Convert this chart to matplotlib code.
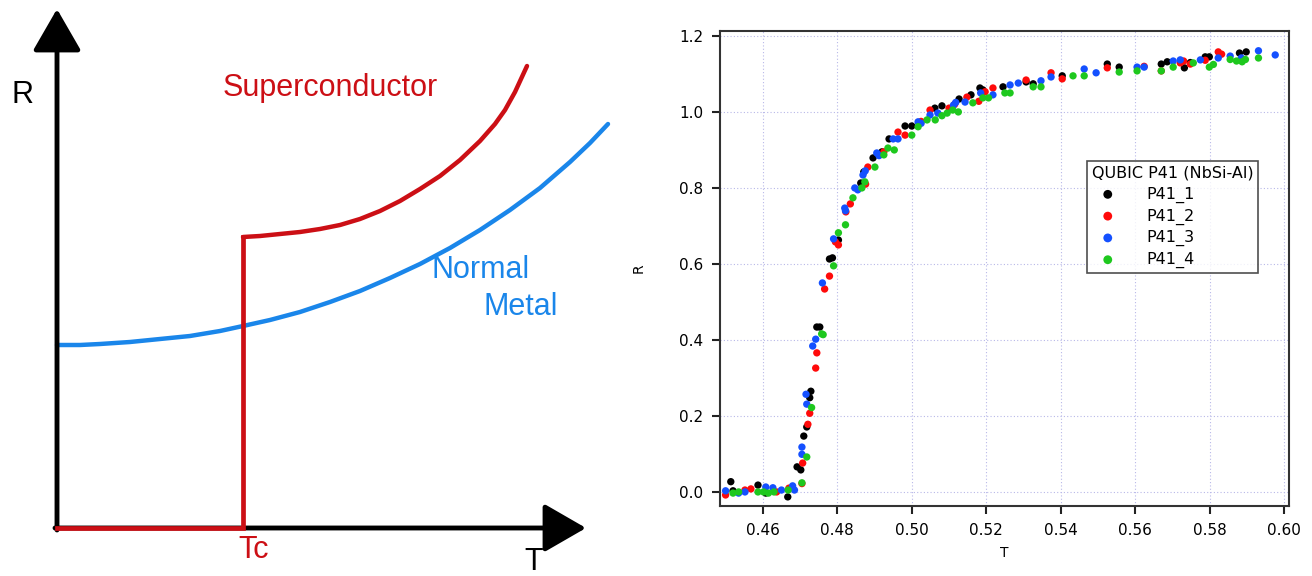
# %% pacotes
import numpy as np
import matplotlib
matplotlib.use('Agg')
import matplotlib.pyplot as plt

# %% dados - esquema (coordenadas da figura esquemática, em px)
sc_x = [243, 260, 280, 300, 320, 340, 360, 380, 400, 420, 440, 460, 480, 495, 505, 515, 527]
sc_y = [237, 236, 234, 232, 229, 225, 219, 211, 201, 189, 176, 160, 141, 124, 110, 92, 66]
step_x = [57, 243, 243]
step_y = [528, 528, 237]
nm_x = [57, 80, 100, 130, 160, 190, 220, 243, 270, 300, 330, 360, 390, 420, 450,
        480, 510, 540, 570, 590, 608]
nm_y = [345, 345, 344, 342, 339, 336, 331, 326, 320, 312, 302, 291, 278, 264, 248,
        230, 210, 188, 162, 143, 124]

# %% dados - medidas R(T)
t1 = [0.4514, 0.4520, 0.4587, 0.4608, 0.4667, 0.4692, 0.4702, 0.4710, 0.4718, 0.4726,
      0.4729, 0.4745, 0.4753, 0.4779, 0.4787, 0.4803, 0.4863, 0.4871, 0.4896, 0.4920,
      0.4939, 0.4982, 0.5000, 0.5062, 0.5081, 0.5127, 0.5159, 0.5183, 0.5191, 0.5245,
      0.5307, 0.5326, 0.5404, 0.5525, 0.5557, 0.5670, 0.5686, 0.5732, 0.5748, 0.5788,
      0.5799, 0.5880, 0.5898]
r1 = [0.027, 0.003, 0.018, -0.003, -0.013, 0.066, 0.058, 0.147, 0.171, 0.248,
      0.265, 0.434, 0.434, 0.613, 0.616, 0.663, 0.813, 0.842, 0.879, 0.895,
      0.929, 0.963, 0.963, 1.010, 1.016, 1.034, 1.045, 1.063, 1.058, 1.066,
      1.079, 1.074, 1.095, 1.126, 1.118, 1.126, 1.132, 1.116, 1.130, 1.145,
      1.145, 1.155, 1.158]

t2 = [0.4500, 0.4552, 0.4568, 0.4637, 0.4670, 0.4705, 0.4707, 0.4721, 0.4726, 0.4742,
      0.4745, 0.4766, 0.4779, 0.4795, 0.4803, 0.4823, 0.4835, 0.4876, 0.4882, 0.4925,
      0.4963, 0.4982, 0.5025, 0.5049, 0.5100, 0.5115, 0.5148, 0.5180, 0.5197, 0.5218,
      0.5307, 0.5374, 0.5404, 0.5525, 0.5624, 0.5670, 0.5721, 0.5730, 0.5748, 0.5788,
      0.5823, 0.5832]
r2 = [-0.008, 0.005, 0.008, 0.000, 0.010, 0.022, 0.076, 0.178, 0.207, 0.326,
      0.366, 0.534, 0.568, 0.658, 0.650, 0.737, 0.758, 0.810, 0.855, 0.895,
      0.947, 0.939, 0.975, 1.005, 1.010, 1.020, 1.039, 1.028, 1.053, 1.063,
      1.084, 1.103, 1.087, 1.116, 1.120, 1.108, 1.129, 1.134, 1.126, 1.136,
      1.158, 1.152]

t3 = [0.4500, 0.4535, 0.4552, 0.4608, 0.4627, 0.4650, 0.4680, 0.4685, 0.4705, 0.4705,
      0.4716, 0.4718, 0.4734, 0.4742, 0.4760, 0.4790, 0.4820, 0.4822, 0.4847, 0.4855,
      0.4869, 0.4875, 0.4906, 0.4912, 0.4950, 0.4963, 0.5017, 0.5025, 0.5049, 0.5070,
      0.5112, 0.5118, 0.5143, 0.5185, 0.5218, 0.5264, 0.5286, 0.5347, 0.5374, 0.5463,
      0.5495, 0.5605, 0.5624, 0.5702, 0.5721, 0.5775, 0.5823, 0.5855, 0.5885, 0.5931,
      0.5976]
r3 = [0.003, -0.003, 0.000, 0.013, 0.011, 0.005, 0.016, 0.005, 0.099, 0.118,
      0.257, 0.231, 0.384, 0.402, 0.550, 0.666, 0.747, 0.740, 0.800, 0.795,
      0.834, 0.845, 0.892, 0.885, 0.929, 0.929, 0.974, 0.970, 0.992, 0.997,
      1.018, 1.025, 1.026, 1.050, 1.045, 1.071, 1.076, 1.082, 1.092, 1.113,
      1.103, 1.118, 1.118, 1.134, 1.137, 1.137, 1.142, 1.147, 1.142, 1.161,
      1.150]

t4 = [0.4520, 0.4535, 0.4587, 0.4602, 0.4615, 0.4630, 0.4668, 0.4705, 0.4718, 0.4731,
      0.4758, 0.4762, 0.4790, 0.4803, 0.4822, 0.4842, 0.4866, 0.4874, 0.4901, 0.4925,
      0.4936, 0.4953, 0.5000, 0.5017, 0.5041, 0.5063, 0.5081, 0.5095, 0.5110, 0.5125,
      0.5164, 0.5191, 0.5206, 0.5250, 0.5264, 0.5326, 0.5347, 0.5433, 0.5463, 0.5557,
      0.5605, 0.5670, 0.5702, 0.5756, 0.5799, 0.5810, 0.5855, 0.5872, 0.5887, 0.5896,
      0.5931]
r4 = [-0.003, 0.000, 0.000, 0.000, -0.003, 0.000, 0.005, 0.024, 0.092, 0.222,
      0.416, 0.414, 0.595, 0.682, 0.703, 0.774, 0.800, 0.816, 0.855, 0.887,
      0.905, 0.900, 0.939, 0.961, 0.979, 0.979, 0.990, 0.997, 1.005, 1.000,
      1.024, 1.037, 1.037, 1.050, 1.050, 1.066, 1.066, 1.095, 1.095, 1.105,
      1.108, 1.108, 1.118, 1.129, 1.118, 1.125, 1.138, 1.134, 1.132, 1.138,
      1.142]

series = [(t1, r1, 'P41_1', 'black'),
          (t2, r2, 'P41_2', '#ff0a0a'),
          (t3, r3, 'P41_3', '#1450ff'),
          (t4, r4, 'P41_4', '#1ec81e')]

xticks = [0.46, 0.48, 0.50, 0.52, 0.54, 0.56, 0.58, 0.60]
yticks = [0.0, 0.2, 0.4, 0.6, 0.8, 1.0, 1.2]

# %% figura
fig = plt.figure(figsize=(13.12, 5.76), dpi=100)

# esquema à esquerda (eixo em pixels)
red = '#cc0f15'
blue = '#1a86ea'
ax0 = fig.add_axes([0, 0, 620 / 1312, 1])
ax0.set_xlim(0, 620)
ax0.set_ylim(576, 0)
ax0.axis('off')

arrow = dict(arrowstyle='-|>,head_length=1.3,head_width=0.75', lw=3.5, color='black',
             mutation_scale=20, shrinkA=0, shrinkB=0)
ax0.annotate('', xy=(57, 9), xytext=(57, 530), arrowprops=arrow)
ax0.annotate('', xy=(586, 528), xytext=(55, 528), arrowprops=arrow)

ax0.plot(nm_x, nm_y, color=blue, lw=3.2, solid_capstyle='round', solid_joinstyle='round')
ax0.plot(step_x, step_y, color=red, lw=3.4, solid_joinstyle='miter', zorder=5)
ax0.plot(sc_x, sc_y, color=red, lw=3.2, solid_capstyle='round', solid_joinstyle='round',
         zorder=5)

fs = 22
ax0.text(22, 95, 'R', fontsize=fs, family='Liberation Sans', ha='center', va='center')
ax0.text(330, 88, 'Superconductor', fontsize=fs, family='Liberation Sans', color=red,
         ha='center', va='center')
ax0.text(432, 270, 'Normal', fontsize=fs, family='Liberation Sans', color=blue,
         ha='left', va='center')
ax0.text(483, 307, 'Metal', fontsize=fs, family='Liberation Sans', color=blue,
         ha='left', va='center')
ax0.text(254, 550, 'Tc', fontsize=fs, family='Liberation Sans', color=red,
         ha='center', va='center')
ax0.text(534, 562, 'T', fontsize=fs, family='Liberation Sans', ha='center', va='center')

# medidas à direita
ax = fig.add_axes([720 / 1312, 1 - 506 / 576, 569 / 1312, 475 / 576])
for t, r, nome, cor in series:
    ax.scatter(t, r, s=28, color=cor, label=nome, edgecolors='none', zorder=3)

ax.set_xlim(0.4485, 0.6013)
ax.set_ylim(-0.037, 1.213)
ax.set_xticks(xticks)
ax.set_yticks(yticks)
ax.set_xticklabels([f'{v:.2f}' for v in xticks])
ax.set_yticklabels([f'{v:.1f}' for v in yticks])
ax.grid(True, linestyle=(0, (1, 2)), color='#b8b8e8', lw=0.8)
for s in ax.spines.values():
    s.set_color('#333333')
    s.set_linewidth(1.5)
ax.tick_params(direction='out', length=6, width=1.5, color='#222222',
               labelsize=11, pad=6)
ax.set_xlabel('T', fontsize=10, labelpad=6)
ax.set_ylabel('R', fontsize=10, labelpad=24)

leg = ax.legend(title='QUBIC P41 (NbSi-Al)', loc='upper left',
                bbox_to_anchor=(0.645, 0.726), fontsize=11.5, title_fontsize=11.5,
                frameon=True, fancybox=False, edgecolor='#222222',
                handletextpad=1.4, labelspacing=0.35, borderpad=0.3,
                borderaxespad=0, alignment='left', markerscale=1.2)
leg.get_frame().set_linewidth(1.2)

fig.savefig('out.png', dpi=100)
